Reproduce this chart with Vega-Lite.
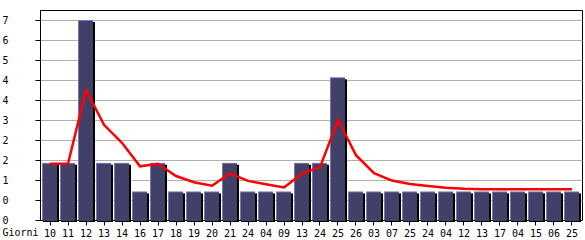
{
  "$schema": "https://vega.github.io/schema/vega-lite/v6.json",
  "width": 542,
  "height": 210,
  "autosize": {"type": "none"},
  "padding": {"left": 40, "top": 10, "right": 3, "bottom": 20},
  "background": "white",
  "config": {
    "view": {"stroke": "black", "strokeWidth": 1},
    "font": "DejaVu Sans Mono",
    "axis": {"labelFont": "DejaVu Sans Mono", "labelFontSize": 10, "labelColor": "black", "titleFont": "DejaVu Sans Mono", "titleFontSize": 10, "titleFontWeight": "normal", "titleColor": "black", "domainColor": "black", "tickColor": "black", "labelOverlap": false}
  },
  "data": {
    "values": [
      {"k": "10", "v": 2, "avg": 1.97},
      {"k": "11", "v": 2, "avg": 1.97},
      {"k": "12", "v": 7, "avg": 4.55},
      {"k": "13", "v": 2, "avg": 3.33},
      {"k": "14", "v": 2, "avg": 2.7},
      {"k": "16", "v": 1, "avg": 1.88},
      {"k": "17", "v": 2, "avg": 1.97},
      {"k": "18", "v": 1, "avg": 1.54},
      {"k": "19", "v": 1, "avg": 1.32},
      {"k": "20", "v": 1, "avg": 1.2},
      {"k": "21", "v": 2, "avg": 1.63},
      {"k": "24", "v": 1, "avg": 1.37},
      {"k": "04", "v": 1, "avg": 1.25},
      {"k": "09", "v": 1, "avg": 1.14},
      {"k": "13b", "v": 2, "avg": 1.62},
      {"k": "24b", "v": 2, "avg": 1.85},
      {"k": "25", "v": 5, "avg": 3.5},
      {"k": "26", "v": 1, "avg": 2.27},
      {"k": "03", "v": 1, "avg": 1.64},
      {"k": "07", "v": 1, "avg": 1.38},
      {"k": "25b", "v": 1, "avg": 1.26},
      {"k": "24c", "v": 1, "avg": 1.19},
      {"k": "04b", "v": 1, "avg": 1.13},
      {"k": "12b", "v": 1, "avg": 1.09},
      {"k": "13c", "v": 1, "avg": 1.08},
      {"k": "17b", "v": 1, "avg": 1.08},
      {"k": "04c", "v": 1, "avg": 1.08},
      {"k": "15", "v": 1, "avg": 1.08},
      {"k": "06", "v": 1, "avg": 1.08},
      {"k": "25c", "v": 1, "avg": 1.08}
    ]
  },
  "encoding": {
    "x": {
      "field": "k",
      "type": "nominal",
      "sort": null,
      "scale": {"paddingInner": 0, "paddingOuter": 0.0556},
      "axis": {
        "labelAngle": 0,
        "labelExpr": "substring(datum.label, 0, 2)",
        "tickSize": 5,
        "labelPadding": 3,
        "title": "Giorni",
        "titleX": -38,
        "titleY": 12,
        "titleAlign": "left",
        "titleBaseline": "middle",
        "titleAnchor": "start"
      }
    }
  },
  "layer": [
    {
      "mark": {"type": "bar", "color": "black", "width": 16, "xOffset": 1, "yOffset": 2},
      "encoding": {
        "y": {
          "field": "v",
          "type": "quantitative",
          "scale": {"domain": [0, 7.35], "nice": false, "zero": true},
          "axis": {
            "values": [0, 0.7, 1.4, 2.1, 2.8, 3.5, 4.2, 4.9, 5.6, 6.3, 7],
            "tickCount": 20,
            "labelExpr": "floor(datum.value + 0.000001)",
            "labelOverlap": false,
            "grid": true,
            "gridColor": "#b0b0b0",
            "gridOpacity": 1,
            "tickSize": 5,
            "labelAlign": "left",
            "labelPadding": 33,
            "title": null
          }
        }
      }
    },
    {
      "mark": {"type": "bar", "color": "#7878b8", "width": 15, "xOffset": -0.5},
      "encoding": {"y": {"field": "v", "type": "quantitative"}}
    },
    {
      "mark": {"type": "bar", "color": "#404068", "width": 14, "xOffset": 0, "yOffset": 1},
      "encoding": {"y": {"field": "v", "type": "quantitative"}}
    },
    {
      "mark": {"type": "line", "color": "#ff0000", "strokeWidth": 2.5},
      "encoding": {"y": {"field": "avg", "type": "quantitative"}}
    }
  ]
}
